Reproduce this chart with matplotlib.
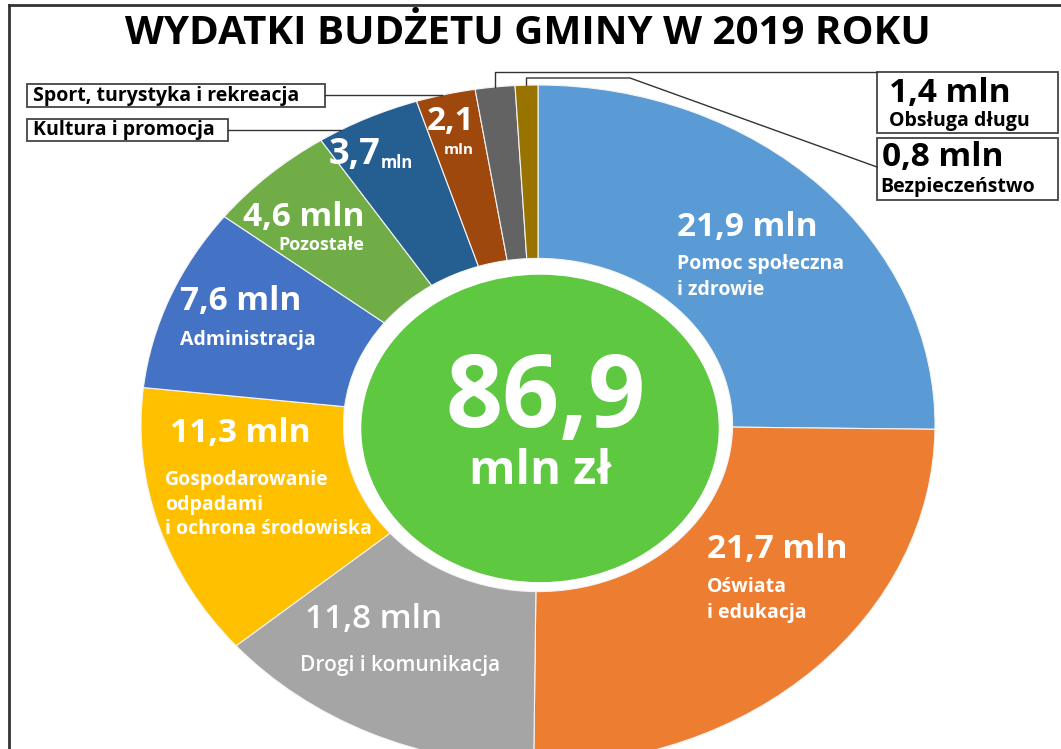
import numpy as np
import matplotlib
matplotlib.use("Agg")
import matplotlib.pyplot as plt
from matplotlib.patches import Ellipse, Rectangle
from matplotlib.lines import Line2D

plt.rcParams['font.family'] = ['Open Sans', 'DejaVu Sans']

# dane: wydatki budżetu gminy w 2019 roku (mln zł)
categories = ["Pomoc społeczna\ni zdrowie", "Oświata\ni edukacja", "Drogi i komunikacja",
              "Gospodarowanie\nodpadami\ni ochrona środowiska", "Administracja", "Pozostałe",
              "Kultura i promocja", "Sport, turystyka i rekreacja", "Obsługa długu", "Bezpieczeństwo"]
values = [21.9, 21.7, 11.8, 11.3, 7.6, 4.6, 3.7, 2.1, 1.4, 0.8]
value_labels = ["21,9 mln", "21,7 mln", "11,8 mln", "11,3 mln", "7,6 mln", "4,6 mln",
                "3,7", "2,1", "1,4 mln", "0,8 mln"]
colors = ["#5B9BD5", "#ED7D31", "#A5A5A5", "#FFC000", "#4472C4", "#70AD47",
          "#255E91", "#9E480E", "#636363", "#997300"]
total_label = "86,9"

W, H = 1061, 749
CX, CY, RX, RY = 538, 425, 397, 340   # środek i promienie elipsy w pikselach

fig = plt.figure(figsize=(W / 100, H / 100), dpi=100)
ax = fig.add_axes([0, 0, 1, 1])
ax.pie(values, colors=colors, startangle=90, counterclock=False, radius=1,
       wedgeprops=dict(width=0.51, edgecolor="#f4f4f4", linewidth=0.8))
ax.set_aspect('auto')
ax.set_xlim(-CX / RX, (W - CX) / RX)
ax.set_ylim((CY - H) / RY, CY / RY)
ax.axis('off')

# zielone koło w środku
ax.add_patch(Ellipse((0.005, -0.01), 2 * 178 / RX, 2 * 153 / RY, color="#5DC840", zorder=3))


def fp(x, y):
    # piksele -> współrzędne figury
    return x / W, 1 - y / H


def txt(x, y, s, size, color="white", ha="left", weight="bold", **kw):
    fig.text(*fp(x, y), s, fontsize=size, color=color, ha=ha, va="center",
             fontweight=weight, **kw)


def line(xs, ys, lw=1.0):
    pts = [fp(x, y) for x, y in zip(xs, ys)]
    fig.add_artist(Line2D([p[0] for p in pts], [p[1] for p in pts],
                          color="#333333", lw=lw, transform=fig.transFigure))


def box(x0, y0, x1, y1):
    fig.add_artist(Rectangle(fp(x0, y1), (x1 - x0) / W, (y1 - y0) / H, fill=False,
                             ec="#444444", lw=1.3, transform=fig.transFigure))


def edge_point(i):
    # punkt na zewnętrznej krawędzi w połowie wycinka i
    cum = np.cumsum([0] + values)
    ang = np.deg2rad(90 - 360 * (cum[i] + values[i] / 2) / sum(values))
    return CX + RX * np.cos(ang), CY - RY * np.sin(ang)


# ramka
line([9, 9], [5, H], lw=2)
line([9, W], [5, 5], lw=2)

txt(528, 33, "WYDATKI BUDŻETU GMINY W 2019 ROKU", 29, color="black", ha="center")

# opisy na wycinkach
big, small = 24, 14
txt(677, 228, value_labels[0], big)
txt(677, 277, categories[0], small, linespacing=1.35)
txt(707, 550, value_labels[1], big)
txt(707, 600, categories[1], small, linespacing=1.45)
txt(305, 620, value_labels[2], big, weight="semibold")
txt(300, 665, categories[2], 15, weight="semibold")
txt(170, 433, value_labels[3], big)
txt(165, 505, categories[3], small, linespacing=1.3)
txt(180, 302, value_labels[4], big)
txt(180, 340, categories[4], small)
txt(243, 218, value_labels[5], big)
txt(278, 245, categories[5], 13)
txt(329, 155, value_labels[6], 26)
txt(381, 163, "mln", 12)
txt(451, 122, value_labels[7], big, ha="center")
txt(459, 150, "mln", 11, ha="center")

# środek
txt(546, 400, total_label, 72, ha="center")
txt(540, 472, "mln zł", 34, ha="center")

# ramki z opisami małych wycinków
box(27, 84, 325, 107)
txt(33, 96, categories[7], 14, color="black")
box(27, 119, 228, 141)
txt(33, 130, categories[6], 14, color="black")

sx = CX - RX * np.sqrt(1 - ((CY - 95) / RY) ** 2)
line([325, sx], [95, 95])
kx = CX - RX * np.sqrt(1 - ((CY - 130) / RY) ** 2)
line([228, kx], [130, 130])

box(877, 72, 1058, 133)
txt(889, 93, value_labels[8], 24, color="black")
txt(889, 121, categories[8], 14, color="black")
box(877, 138, 1058, 200)
txt(882, 157, value_labels[9], 24, color="black")
txt(880, 187, categories[9], 14, color="black")

gx, gy = edge_point(8)
line([877, gx, gx], [72, 72, gy])
bx, by = edge_point(9)
line([bx, bx, 630, 877], [by, 78, 78, 167])

fig.savefig("out.png", dpi=100)
